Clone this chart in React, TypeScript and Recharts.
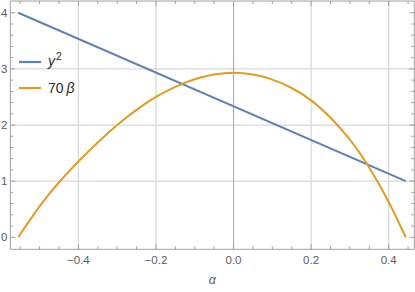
import React from 'react';
import { LineChart, Line, XAxis, YAxis, ReferenceLine } from 'recharts';

const FONT = '"Liberation Sans", Arial, sans-serif';
const FRAME = '#a0a0a0';
const GRID = '#d9d9d9';
const ZERO = '#a8a8a8';
const LABEL = '#5c5c5c';
const BLUE = '#5E81B5';
const ORANGE = '#E19C24';
const EPS = 0.001;

const xDomain: [number, number] = [-0.5755, 0.466];
const yDomain: [number, number] = [-0.214, 4.21];

// series: y^2 (straight line)
const alphaBlue = [-0.555, 0.444];
const y2Values = [4.0, 1.0];

// series: 70 beta
const alphaOrange = [-0.555, -0.5, -0.45, -0.4, -0.35, -0.3, -0.25, -0.2, -0.15, -0.1, -0.05, 0, 0.05, 0.1, 0.15, 0.2, 0.25, 0.3, 0.35, 0.4, 0.444];
const beta70Values = [0, 0.55, 0.98, 1.35, 1.69, 2.0, 2.27, 2.5, 2.68, 2.815, 2.9, 2.93, 2.9, 2.81, 2.66, 2.44, 2.13, 1.74, 1.24, 0.63, 0];

const seriesNames = ['y2', '70β'];
const seriesColors = [BLUE, ORANGE];

const xMajorTicks = [-0.4, -0.2, 0, 0.2, 0.4];
const xTickLabels = ['\u22120.4', '\u22120.2', '0.0', '0.2', '0.4'];
const xMinorTicks = [-0.55, -0.5, -0.45, -0.35, -0.3, -0.25, -0.15, -0.1, -0.05, 0.05, 0.1, 0.15, 0.25, 0.3, 0.35, 0.45];
const yMajorTicks = [0, 1, 2, 3, 4];
const yTickLabels = ['0', '1', '2', '3', '4'];
const yMinorTicks = [0.2, 0.4, 0.6, 0.8, 1.2, 1.4, 1.6, 1.8, 2.2, 2.4, 2.6, 2.8, 3.2, 3.4, 3.6, 3.8];
const xGridLines = [-0.4, -0.2, 0.2, 0.4];
const yGridLines = [1, 2, 3];

const blueData = alphaBlue.map((a, i) => ({ a, v: y2Values[i] }));
const orangeData = alphaOrange.map((a, i) => ({ a, v: beta70Values[i] }));

const xAllTicks = [...xMajorTicks, ...xMinorTicks].sort((p, q) => p - q);
const yAllTicks = [...yMajorTicks, ...yMinorTicks].sort((p, q) => p - q);

const majorIndex = (v: number, majors: number[]) => majors.findIndex((m) => Math.abs(m - v) < 1e-9);

const labelText = { fill: LABEL, fontSize: 11.5, fontFamily: FONT };

const BottomTick = (props: any) => {
  const { x, y, payload } = props;
  const idx = majorIndex(payload.value, xMajorTicks);
  const len = idx >= 0 ? 5 : 3;
  return (
    <g>
      <line x1={x} y1={y} x2={x} y2={y - len} stroke={FRAME} strokeWidth={1} />
      {idx >= 0 && (
        <text x={x} y={y + 15} textAnchor="middle" {...labelText}>
          {xTickLabels[idx]}
        </text>
      )}
    </g>
  );
};

const TopTick = (props: any) => {
  const { x, y, payload } = props;
  const idx = majorIndex(payload.value, xMajorTicks);
  const len = idx >= 0 ? 5 : 3;
  return <line x1={x} y1={y} x2={x} y2={y + len} stroke={FRAME} strokeWidth={1} />;
};

const LeftTick = (props: any) => {
  const { x, y, payload } = props;
  const idx = majorIndex(payload.value, yMajorTicks);
  const len = idx >= 0 ? 5 : 3;
  return (
    <g>
      <line x1={x} y1={y} x2={x + len} y2={y} stroke={FRAME} strokeWidth={1} />
      {idx >= 0 && (
        <text x={x - 3} y={y + 4} textAnchor="end" {...labelText}>
          {yTickLabels[idx]}
        </text>
      )}
    </g>
  );
};

const RightTick = (props: any) => {
  const { x, y, payload } = props;
  const idx = majorIndex(payload.value, yMajorTicks);
  const len = idx >= 0 ? 5 : 3;
  return <line x1={x} y1={y} x2={x - len} y2={y} stroke={FRAME} strokeWidth={1} />;
};

const legendLabel = (name: string) => {
  if (name === 'y2') {
    return (
      <span>
        <i>y</i>
        <span style={{ fontSize: '0.75em', position: 'relative', top: '-0.55em', marginLeft: 1 }}>2</span>
      </span>
    );
  }
  return (
    <span>
      70{'\u2009'}<i>β</i>
    </span>
  );
};

export default function App() {
  return (
    <div style={{ position: 'absolute', left: 0, top: 0, width: 415, height: 292, background: '#fff' }}>
      <LineChart width={415} height={292} margin={{ top: 1, left: 10.3, right: 0.7, bottom: 42.7 }}>
        <XAxis
          xAxisId="bottom"
          dataKey="a"
          type="number"
          orientation="bottom"
          domain={xDomain}
          allowDataOverflow
          height={EPS}
          ticks={xAllTicks}
          interval={0}
          tick={BottomTick}
          tickLine={false}
          axisLine={{ stroke: FRAME }}
          tickSize={0}
          tickMargin={0}
          label={{ value: 'α', position: 'bottom', offset: 25.5, fill: LABEL, fontSize: 12.5, fontStyle: 'italic', fontFamily: FONT }}
        />
        <XAxis
          xAxisId="top"
          dataKey="a"
          type="number"
          orientation="top"
          domain={xDomain}
          allowDataOverflow
          height={EPS}
          ticks={xAllTicks}
          interval={0}
          tick={TopTick}
          tickLine={false}
          axisLine={{ stroke: FRAME }}
          tickSize={0}
          tickMargin={0}
        />
        <YAxis
          yAxisId="left"
          type="number"
          orientation="left"
          domain={yDomain}
          allowDataOverflow
          width={EPS}
          ticks={yAllTicks}
          interval={0}
          tick={LeftTick}
          tickLine={false}
          axisLine={{ stroke: FRAME }}
          tickSize={0}
          tickMargin={0}
        />
        <YAxis
          yAxisId="right"
          type="number"
          orientation="right"
          domain={yDomain}
          allowDataOverflow
          width={EPS}
          ticks={yAllTicks}
          interval={0}
          tick={RightTick}
          tickLine={false}
          axisLine={{ stroke: FRAME }}
          tickSize={0}
          tickMargin={0}
        />

        {yGridLines.map((v) => (
          <ReferenceLine key={'h' + v} xAxisId="bottom" yAxisId="left" y={v} stroke={GRID} strokeWidth={1.3} />
        ))}
        {xGridLines.map((v) => (
          <ReferenceLine key={'v' + v} xAxisId="bottom" yAxisId="left" x={v} stroke={GRID} strokeWidth={1.3} />
        ))}
        <ReferenceLine xAxisId="bottom" yAxisId="left" x={0} stroke={ZERO} strokeWidth={1} />

        <Line xAxisId="bottom" yAxisId="left" name={seriesNames[0]} data={blueData} dataKey="v" type="linear"
          stroke={seriesColors[0]} strokeWidth={2} dot={false} activeDot={false} isAnimationActive={false} />
        <Line xAxisId="top" yAxisId="right" name={seriesNames[1]} data={orangeData} dataKey="v" type="natural"
          stroke={seriesColors[1]} strokeWidth={2} dot={false} activeDot={false} isAnimationActive={false} />
      </LineChart>
      <div style={{ position: 'absolute', left: 19, top: 49, fontFamily: FONT, fontSize: 14, color: '#2a2a2a' }}>
        {seriesNames.map((name, i) => (
          <div key={name} style={{ display: 'flex', alignItems: 'center', height: 26 }}>
            <svg width={22} height={4} style={{ display: 'block' }}>
              <line x1={0} y1={2} x2={22} y2={2} stroke={seriesColors[i]} strokeWidth={2.2} />
            </svg>
            <span style={{ marginLeft: 7, lineHeight: '15px' }}>{legendLabel(name)}</span>
          </div>
        ))}
      </div>
    </div>
  );
}
